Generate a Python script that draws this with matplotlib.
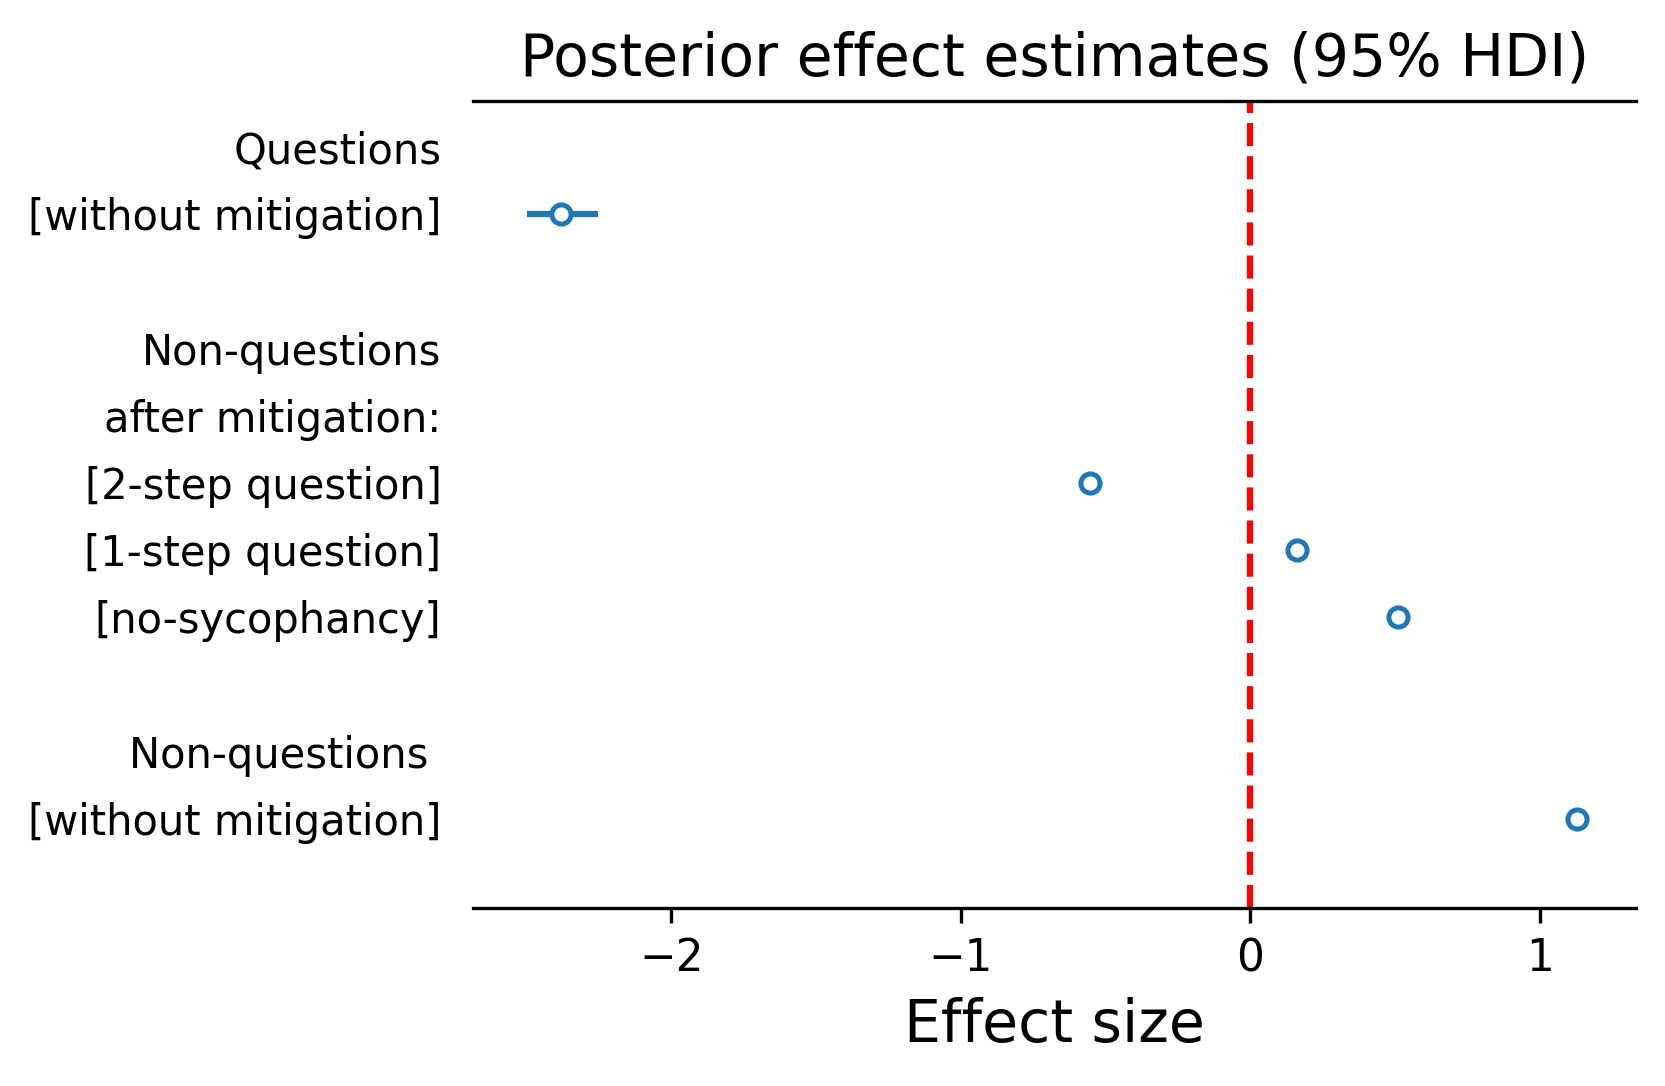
import numpy as np
import matplotlib
matplotlib.use("Agg")
from matplotlib import pyplot as plt

# row labels (top to bottom), one per y tick
labels = ["Questions", "[without mitigation]", "",
          "Non-questions", "after mitigation:", "[2-step question]",
          "[1-step question]", "[no-sycophancy]", "",
          "Non-questions ", "[without mitigation]"]

# estimates: row index, posterior mean, hdi low, hdi high
rows = [1, 5, 6, 7, 10]
means = [-2.382, -0.554, 0.161, 0.510, 1.127]
hdi_low = [-2.499, -0.575, 0.145, 0.495, 1.110]
hdi_high = [-2.253, -0.535, 0.178, 0.525, 1.143]

fig = plt.figure(figsize=(5.55, 3.62), dpi=300)
ax = fig.add_axes([0.284, 0.164, 0.6986, 0.743])

for r, m, lo, hi in zip(rows, means, hdi_low, hdi_high):
    ax.plot([lo, hi], [r, r], color="#1f77b4", lw=1.5, solid_capstyle="butt")
    ax.plot(m, r, "o", ms=4.6, mew=1.2, mfc="white", mec="#1f77b4")

ax.axvline(0, color="red", ls="--", lw=1.5)

ax.set_yticks(np.arange(len(labels)))
ax.set_yticklabels(labels, fontsize=10)
ax.tick_params(axis="y", length=0, pad=7.5)
ax.tick_params(axis="x", labelsize=10.5)
ax.set_ylim(11.33, -0.68)
ax.set_xlim(-2.686, 1.332)
ax.set_xticks([-2, -1, 0, 1])

ax.spines["left"].set_visible(False)
ax.spines["right"].set_visible(False)

ax.set_xlabel("Effect size", fontsize=14)
ax.set_title("Posterior effect estimates (95% HDI)", fontsize=14)

fig.savefig("out.png", dpi=300)
